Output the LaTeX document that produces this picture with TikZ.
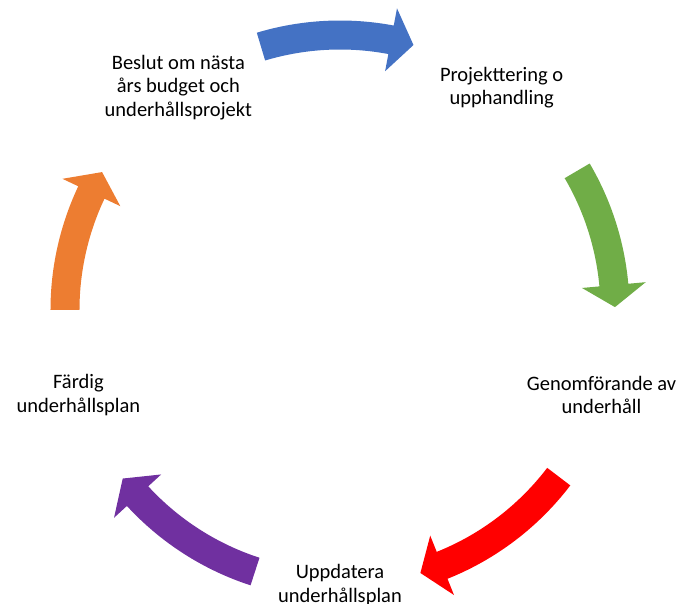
\documentclass[tikz,border=0pt]{standalone}
\usepackage{fontspec}
\setmainfont{Carlito}
\definecolor{cycleblue}{HTML}{4472C4}
\definecolor{cyclegreen}{HTML}{70AD47}
\definecolor{cyclered}{HTML}{FF0000}
\definecolor{cyclepurple}{HTML}{7030A0}
\definecolor{cycleorange}{HTML}{ED7D31}
\begin{document}
\begin{tikzpicture}[x=1pt,y=1pt,
        steptext/.style={align=center,font=\fontsize{20.5}{23.5}\selectfont}]
        \useasboundingbox (-340,-294) rectangle (341,310);
        % the five steps
        \node [steptext] (beslut) at (126:275) {Beslut om nästa\\års budget och\\underhållsprojekt};
        \node [steptext] (projekt) at (54:275) {Projekttering o\\upphandling};
        \node [steptext] (genomf) at (-18:275) {Genomförande av\\underhåll};
        \node [steptext] (uppdat) at (-90:275) {Uppdatera\\underhållsplan};
        \node [steptext] (fardig) at (198:275) {Färdig\\underhållsplan};
        % curved arrows between the steps
        \fill [cycleblue] (106.7:289.5) arc [start angle=106.7, end angle=79.3, radius=289.5]
            -- (79.3:307) -- (74.5:275) -- (79.3:243) -- (79.3:260.5)
            arc [start angle=79.3, end angle=106.7, radius=260.5] -- cycle;
        \fill [cyclegreen] (30.4:289.5) arc [start angle=30.4, end angle=5.2, radius=289.5]
            -- (5.2:307) -- (0.6:275) -- (5.2:243) -- (5.2:260.5)
            arc [start angle=5.2, end angle=30.4, radius=260.5] -- cycle;
        \fill [cyclered] (-37.3:289.5) arc [start angle=-37.3, end angle=-68.2, radius=289.5]
            -- (-68.2:307) -- (-73:275) -- (-68.2:243) -- (-68.2:260.5)
            arc [start angle=-68.2, end angle=-37.3, radius=260.5] -- cycle;
        \fill [cyclepurple] (-108:289.5) arc [start angle=-108, end angle=-137.4, radius=289.5]
            -- (-137.4:307) -- (-142.2:275) -- (-137.4:243) -- (-137.4:260.5)
            arc [start angle=-137.4, end angle=-108, radius=260.5] -- cycle;
        \fill [cycleorange] (180:289.5) arc [start angle=180, end angle=154.7, radius=289.5]
            -- (154.7:307) -- (149.9:275) -- (154.7:243) -- (154.7:260.5)
            arc [start angle=154.7, end angle=180, radius=260.5] -- cycle;
\end{tikzpicture}
\end{document}
